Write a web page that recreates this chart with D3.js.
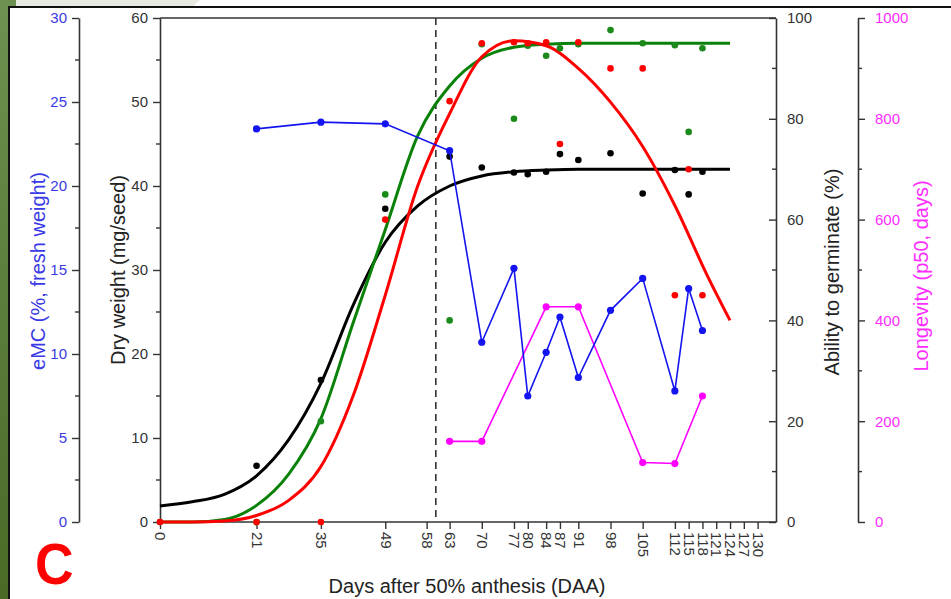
<!DOCTYPE html>
<html>
<head>
<meta charset="utf-8">
<script src="https://cdn.jsdelivr.net/npm/d3@7"></script>
<style>
  html, body { margin: 0; padding: 0; background: #fff; }
  svg { display: block; font-family: "Liberation Sans", Arial, sans-serif; }
</style>
</head>
<body>
<svg id="chart" width="951" height="599"></svg>
<script>
// ---------- DATA ----------
const xTickDays = [0,21,35,49,58,63,70,77,80,84,87,91,98,105,112,115,118,121,124,127,130];
const dwTicks = [0,10,20,30,40,50,60];
const emcTicks = [0,5,10,15,20,25,30];
const abilityTicks = [0,20,40,60,80,100];
const longevityTicks = [0,200,400,600,800,1000];
const dashedDay = 60;

// eMC (%, fresh weight) - blue
const emcDays   = [21,35,49,63,70,77,80,84,87,91,98,105,112,115,118];
const emcValues = [23.4,23.8,23.7,22.1,10.7,15.1,7.5,10.1,12.2,8.6,12.6,14.5,7.8,13.9,11.4];

// Longevity (p50, days) - magenta
const longDays   = [63,70,84,91,105,112,118];
const longValues = [160,160,427,427,118,116,250];

// Dry weight (mg/seed) - black points
const dwDays   = [21,35,49,63,70,77,80,84,87,91,98,105,112,115,118];
const dwValues = [6.7,16.9,37.3,43.5,42.2,41.6,41.4,41.7,43.8,43.1,43.9,39.1,41.9,39.0,41.7];

// Ability to germinate (%) - green points
const greenDays   = [0,21,35,49,63,70,77,80,84,87,91,98,105,112,115,118];
const greenValues = [0,0,20,65,40,94.8,80,94.5,92.5,94,94.8,97.6,95,94.6,77.4,94];

// Ability to germinate (%) - red points
const redDays   = [0,21,35,49,63,70,77,80,84,87,91,98,105,112,115,118];
const redValues = [0,0,0,60,83.5,95,95.2,95,95.2,75,95.2,90,90,45,70,45];

// Fitted curves
const fitDays     = [0,7,14,21,28,35,42,49,56,63,70,77,84,91,98,105,112,119,124];
const dwFit       = [1.9,2.4,3.3,5.5,9.8,16.5,25.8,33.3,37.6,40,41.2,41.7,41.9,42,42,42,42,42,42];
const greenFit    = [0,0,0.5,3.3,9.5,20.5,39.5,58,76.5,86.5,92,94.2,94.8,95,95,95,95,95,95];
const redFit      = [0,0,0.2,1.3,4.3,11,25,45,66.5,81,92.3,95.5,94.5,90,83.3,74.5,62.8,49,40];

// ---------- CHART ----------
const svg = d3.select("#chart");

// slide frame
const defs = svg.append("defs");
const grad = defs.append("linearGradient").attr("id","gr").attr("x1",0).attr("y1",0).attr("x2",0).attr("y2",1);
grad.append("stop").attr("offset","0%").attr("stop-color","#6d9150");
grad.append("stop").attr("offset","100%").attr("stop-color","#4a6a26");
svg.append("rect").attr("width",951).attr("height",599).attr("fill","#fff");
svg.append("rect").attr("x",0).attr("y",0).attr("width",9).attr("height",599).attr("fill","url(#gr)");
svg.append("rect").attr("x",0).attr("y",0).attr("width",20).attr("height",8).attr("fill","#6d9150");
svg.append("path").attr("d","M16,0 L200,0 Q195,4 192,8 L16,8 Z").attr("fill","#e7eae3");
svg.append("line").attr("x1",9).attr("x2",9).attr("y1",7).attr("y2",599).attr("stroke","#111").attr("stroke-width",2);
svg.append("line").attr("x1",8).attr("x2",951).attr("y1",7).attr("y2",7).attr("stroke","#111").attr("stroke-width",2);

const L = 160, R = 776, T = 18, B = 522;
const x = d3.scaleLinear().domain([0,134]).range([L,R]);
const yDW = d3.scaleLinear().domain([0,60]).range([B,T]);
const yEMC = d3.scaleLinear().domain([0,30]).range([B,T]);
const yAB = d3.scaleLinear().domain([0,100]).range([B,T]);
const yLG = d3.scaleLinear().domain([0,1000]).range([B,T]);

const axisColor = "#333";
function styleAxis(g, labelColor) {
  g.select(".domain").attr("stroke", axisColor).attr("stroke-width", 1.6);
  g.selectAll(".tick line").attr("stroke", axisColor).attr("stroke-width", 1.4);
  g.selectAll(".tick text").attr("fill", labelColor).style("font-size","15px")
   .style("font-family",'"Liberation Sans", Arial, sans-serif');
}
function minor(g, scale, values, x0, len) {
  g.selectAll(null).data(values).enter().append("line")
    .attr("x1", x0).attr("x2", x0 + len)
    .attr("y1", d => scale(d)).attr("y2", d => scale(d))
    .attr("stroke", axisColor).attr("stroke-width", 1.4);
}

// top frame line
svg.append("line").attr("x1",L).attr("x2",R).attr("y1",T).attr("y2",T).attr("stroke",axisColor).attr("stroke-width",1.6);

// eMC axis (blue labels)
const gE = svg.append("g").attr("transform","translate(79,0)")
  .call(d3.axisLeft(yEMC).tickValues(emcTicks).tickSizeInner(7).tickSizeOuter(0).tickPadding(5));
styleAxis(gE, "#3a3ae6");
minor(svg, yEMC, [2.5,7.5,12.5,17.5,22.5,27.5], 79, -4);

// Dry weight axis
const gD = svg.append("g").attr("transform",`translate(${L},0)`)
  .call(d3.axisLeft(yDW).tickValues(dwTicks).tickSizeInner(7).tickSizeOuter(0).tickPadding(5));
styleAxis(gD, "#333");
minor(svg, yDW, [5,15,25,35,45,55], L, -4);

// Ability axis (ticks inward)
const gA = svg.append("g").attr("transform",`translate(${R},0)`)
  .call(d3.axisRight(yAB).tickValues(abilityTicks).tickSizeInner(-7).tickSizeOuter(0).tickPadding(11));
styleAxis(gA, "#333");
minor(svg, yAB, [10,30,50,70,90], R, -4);

// Longevity axis
const LX = 858;
const gL = svg.append("g").attr("transform",`translate(${LX},0)`)
  .call(d3.axisRight(yLG).tickValues(longevityTicks).tickFormat(d3.format("d"))
    .tickSizeInner(7).tickSizeOuter(0).tickPadding(10));
styleAxis(gL, "#ff2cff");
minor(svg, yLG, [100,300,500,700,900], LX, 4);

// X axis
const gX = svg.append("g").attr("transform",`translate(0,${B})`)
  .call(d3.axisBottom(x).tickValues(xTickDays).tickSizeInner(7).tickSizeOuter(0).tickPadding(4));
styleAxis(gX, "#333");
gX.select(".domain").attr("d", `M${L},0H${R}`);
gX.selectAll(".tick text")
  .attr("transform","rotate(90)")
  .attr("x", 10).attr("y", 0).attr("dy","0.35em")
  .attr("text-anchor","start");

// axis titles
function vTitle(txt, cx, cy, color, size) {
  svg.append("text").attr("transform",`translate(${cx},${cy}) rotate(-90)`)
    .attr("text-anchor","middle").attr("dy","0.35em")
    .style("font-size", size + "px").attr("fill", color).text(txt);
}
vTitle("eMC (%, fresh weight)", 38, 271, "#3a3ae6", 20);
vTitle("Dry weight (mg/seed)", 118, 270, "#222", 20);
vTitle("Ability to germinate (%)", 832, 272, "#222", 20);
vTitle("Longevity (p50, days)", 921, 276, "#ff2cff", 20);
svg.append("text").attr("x", 467).attr("y", 593).attr("text-anchor","middle")
  .style("font-size","20px").attr("fill","#222").text("Days after 50% anthesis (DAA)");

// Panel letter
svg.append("text").attr("transform","translate(35,584) scale(0.92,1)")
  .style("font-size","58px").style("font-weight","bold").attr("fill","#ff0000").text("C");

// dashed line
svg.append("line").attr("x1",x(dashedDay)).attr("x2",x(dashedDay)).attr("y1",T).attr("y2",B)
  .attr("stroke","#333").attr("stroke-width",1.6).attr("stroke-dasharray","7,5");

// fitted curves
function curve(vals, scale, color) {
  const line = d3.line().x((d,i) => x(fitDays[i])).y(d => scale(d)).curve(d3.curveMonotoneX);
  svg.append("path").datum(vals).attr("d", line).attr("fill","none")
    .attr("stroke", color).attr("stroke-width", 3);
}
curve(dwFit, yDW, "#000");
curve(greenFit, yAB, "#0a820a");
curve(redFit, yAB, "#ff0000");

// scatter points
function dots(days, vals, scale, color, r) {
  svg.append("g").selectAll("circle").data(vals).enter().append("circle")
    .attr("cx", (d,i) => x(days[i])).attr("cy", d => scale(d)).attr("r", r).attr("fill", color);
}
dots(dwDays, dwValues, yDW, "#000", 3.3);
dots(greenDays, greenValues, yAB, "#1a8a1a", 3.3);
dots(redDays, redValues, yAB, "#ff0000", 3.3);

// connected series
function series(days, vals, scale, color) {
  const line = d3.line().x((d,i) => x(days[i])).y(d => scale(d));
  svg.append("path").datum(vals).attr("d", line).attr("fill","none")
    .attr("stroke", color).attr("stroke-width", 1.6);
  dots(days, vals, scale, color, 3.6);
}
series(longDays, longValues, yLG, "#ff00ff");
series(emcDays, emcValues, yEMC, "#1414f0");
</script>
</body>
</html>
